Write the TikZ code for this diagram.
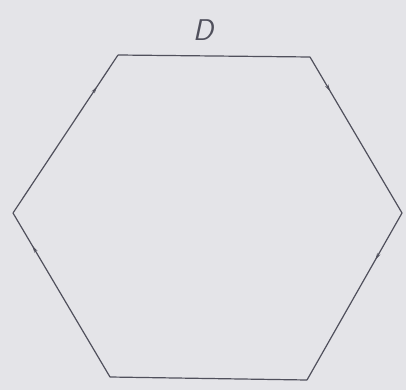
\documentclass[tikz,border=0pt]{standalone}
\usetikzlibrary{decorations.markings,arrows.meta}
\definecolor{paper}{RGB}{228,228,232}
\definecolor{pencil}{RGB}{80,80,92}
\tikzset{
  edge/.style={draw=pencil,line width=1.2pt},
  tick/.style={edge,postaction={decorate},decoration={markings,mark=at position #1 with {\arrow[pencil]{Stealth[length=7pt,width=3.5pt]}}}},
}
\begin{document}
\begin{tikzpicture}[x=1pt,y=-1pt]
\fill[paper] (0,0) rectangle (406,390);
\useasboundingbox (0,0) rectangle (406,390);
\coordinate (tl) at (118,55);
\coordinate (tr) at (310,57);
\coordinate (r) at (402,213);
\coordinate (br) at (307,380);
\coordinate (bl) at (110,377);
\coordinate (l) at (13,213);
\draw[edge] (tl) -- (tr);
\draw[tick=0.22] (tr) -- (r);
\draw[tick=0.28] (r) -- (br);
\draw[edge] (br) -- (bl);
\draw[tick=0.80] (bl) -- (l);
\draw[tick=0.80] (l) -- (tl);
\node[text=pencil,font=\sffamily\itshape\fontsize{30}{32}\selectfont] (lab) at (203,30) {D};
\end{tikzpicture}
\end{document}
